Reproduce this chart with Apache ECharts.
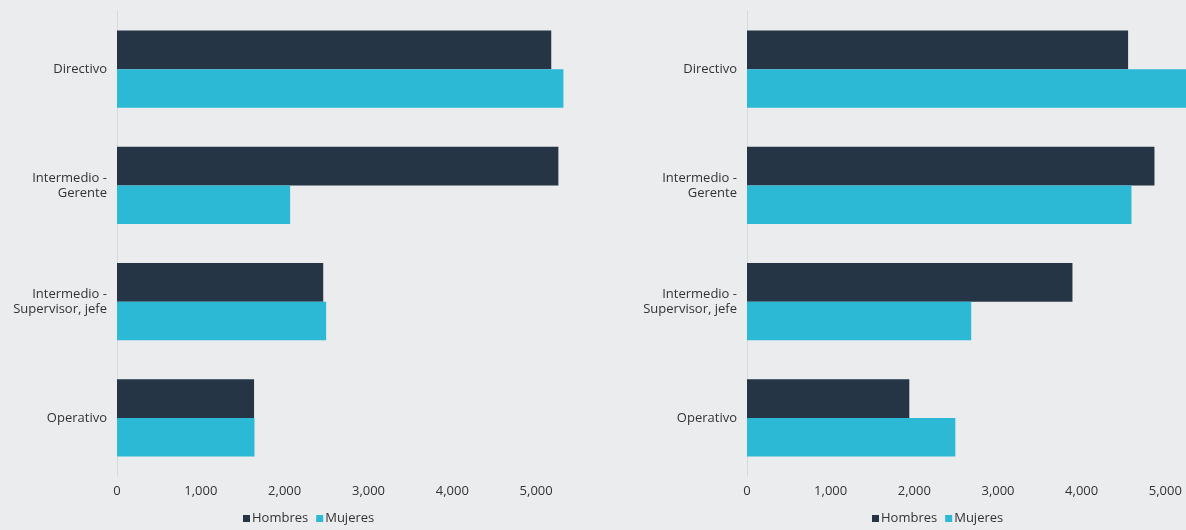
<!DOCTYPE html>
<html><head><meta charset="utf-8">
<script src="https://cdn.jsdelivr.net/npm/echarts@6/dist/echarts.min.js"></script>
<style>html,body{margin:0;padding:0;background:#ebeced;overflow:hidden;width:1186px;height:530px}#c{width:1260px;height:530px}</style>
</head><body><div id="c"></div>
<script>
const categories = ['Directivo', 'Intermedio -\nGerente', 'Intermedio -\nSupervisor, jefe', 'Operativo'];
const leftHombres = [5180, 5265, 2460, 1635];
const leftMujeres = [5325, 2065, 2495, 1640];
const rightHombres = [4555, 4870, 3890, 1940];
const rightMujeres = [5400, 4595, 2680, 2490];
const seriesNames = ['Hombres', 'Mujeres'];
const colors = ['#253546', '#2cb9d6'];

const font = '"Open Sans", Lato, sans-serif';
const textColor = '#333';
const fmt = v => v >= 6000 ? '' : v.toLocaleString('en-US');

function xAx(i){return {type:'value',gridIndex:i,min:0,max:6000,interval:1000,
  axisLine:{show:false},axisTick:{show:false},splitLine:{show:false},
  axisLabel:{formatter:fmt,color:textColor,fontFamily:font,fontSize:13,margin:9}};}
function yAx(i){return {type:'category',gridIndex:i,data:categories,inverse:true,
  axisLine:{show:true,lineStyle:{color:'#d8d9da',width:1}},axisTick:{show:false},
  axisLabel:{color:textColor,fontFamily:font,fontSize:13,margin:10,lineHeight:15}};}
function bar(name,data,i,c){return {name:name,type:'bar',xAxisIndex:i,yAxisIndex:i,data:data,
  itemStyle:{color:c},barGap:'0%',barCategoryGap:'34%',barWidth:'33.3%'};}

const chart = echarts.init(document.getElementById('c'));
chart.setOption({
  backgroundColor:'#ebeced',
  animation:false,
  grid:[{left:117,top:11,width:503,height:465},{left:747,top:11,width:502,height:465}],
  xAxis:[xAx(0),xAx(1)],
  yAxis:[yAx(0),yAx(1)],
  legend:[
    {left:238,top:507,itemWidth:7,itemHeight:7,itemGap:8,icon:'rect',data:seriesNames,
     textStyle:{color:textColor,fontFamily:font,fontSize:13,padding:[0,0,0,-3]}},
    {left:867,top:507,itemWidth:7,itemHeight:7,itemGap:8,icon:'rect',data:seriesNames,
     textStyle:{color:textColor,fontFamily:font,fontSize:13,padding:[0,0,0,-3]}}
  ],
  series:[
    bar(seriesNames[0],leftHombres,0,colors[0]),
    bar(seriesNames[1],leftMujeres,0,colors[1]),
    bar(seriesNames[0],rightHombres,1,colors[0]),
    bar(seriesNames[1],rightMujeres,1,colors[1])
  ]
});
</script></body></html>
